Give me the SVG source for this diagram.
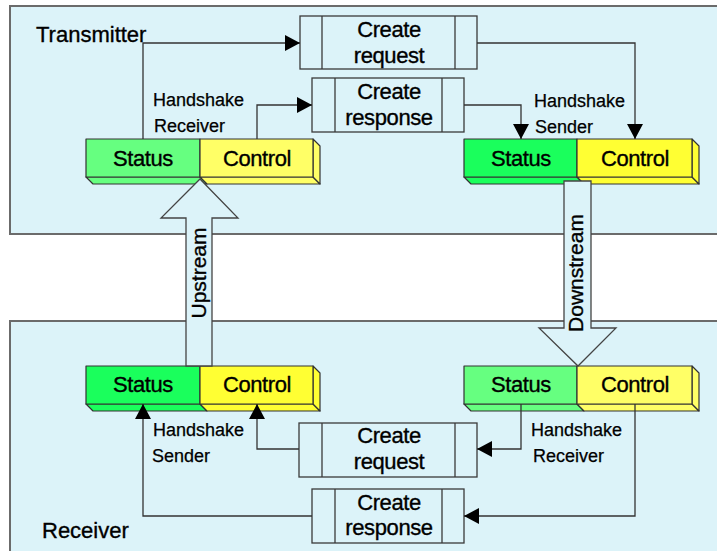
<svg xmlns="http://www.w3.org/2000/svg" width="717" height="551" viewBox="0 0 717 551">
<defs>
<style>
.panel{fill:#dcf3f9;stroke:#6b6b6b;stroke-width:2}
.box{fill:#dcf3f9;stroke:#3a3a3a;stroke-width:1.3}
.div{stroke:#3a3a3a;stroke-width:1.3}
.edge{fill:none;stroke:#333;stroke-width:1.3;marker-end:url(#ah)}
.blk{fill:#dcf3f9;stroke:#444;stroke-width:1.3}
.face{stroke:#333;stroke-width:1.2;stroke-linejoin:round}
.gl{fill:#66ff80}.gb{fill:#1aff5c}.yl{fill:#ffff66}.yb{fill:#ffff33}
text{font-family:"Liberation Sans",Arial,sans-serif;fill:#000;stroke:#000;stroke-width:0.35px}
.big{font-size:22px;text-anchor:middle;letter-spacing:-0.4px}
.lbl{font-size:22px}
.hs{font-size:18px;stroke-width:0.25px}
.bl{font-size:21px;text-anchor:middle}
</style>
<marker id="ah" markerUnits="userSpaceOnUse" markerWidth="16" markerHeight="16" refX="15" refY="8" orient="auto" viewBox="0 0 16 16">
<path d="M0,0 L15,8 L0,16 z" fill="#000"/>
</marker>
</defs>
<rect width="717" height="551" fill="#fff"/>
<g id="transmitter">
<rect class="panel" x="10" y="6" width="720" height="228"/>
<text class="lbl" x="36" y="42">Transmitter</text>
</g>
<g id="receiver">
<rect class="panel" x="10" y="321" width="720" height="240"/>
<text class="lbl" x="42" y="538">Receiver</text>
</g>

<g id="tx-hs-receiver">
<polygon class="face gl" points="86,177 200,177 207,184 93,184"/>
<polygon class="face yl" points="200,177 313,177 320,184 207,184"/>
<polygon class="face yl" points="313,139 320,146 320,184 313,177"/>
<rect class="face gl" x="86" y="139" width="114" height="38"/>
<rect class="face yl" x="200" y="139" width="113" height="38"/>
<text class="big" x="143" y="166">Status</text>
<text class="big" x="257" y="166">Control</text>
<text class="hs" x="153" y="106">Handshake</text>
<text class="hs" x="154" y="132">Receiver</text>
</g>
<g id="tx-hs-sender">
<polygon class="face gb" points="464,177 577,177 584,184 471,184"/>
<polygon class="face yb" points="577,177 692,177 699,184 584,184"/>
<polygon class="face yb" points="692,139 699,146 699,184 692,177"/>
<rect class="face gb" x="464" y="139" width="113" height="38"/>
<rect class="face yb" x="577" y="139" width="115" height="38"/>
<text class="big" x="521" y="166">Status</text>
<text class="big" x="635" y="166">Control</text>
<text class="hs" x="534" y="107">Handshake</text>
<text class="hs" x="535" y="133">Sender</text>
</g>
<g id="rx-hs-sender">
<polygon class="face gb" points="86,404 200,404 207,411 93,411"/>
<polygon class="face yb" points="200,404 313,404 320,411 207,411"/>
<polygon class="face yb" points="313,366 320,373 320,411 313,404"/>
<rect class="face gb" x="86" y="366" width="114" height="38"/>
<rect class="face yb" x="200" y="366" width="113" height="38"/>
<text class="big" x="143" y="392">Status</text>
<text class="big" x="257" y="392">Control</text>
<text class="hs" x="153" y="436">Handshake</text>
<text class="hs" x="152" y="462">Sender</text>
</g>
<g id="rx-hs-receiver">
<polygon class="face gl" points="464,404 577,404 584,411 471,411"/>
<polygon class="face yl" points="577,404 692,404 699,411 584,411"/>
<polygon class="face yl" points="692,366 699,373 699,411 692,404"/>
<rect class="face gl" x="464" y="366" width="113" height="38"/>
<rect class="face yl" x="577" y="366" width="115" height="38"/>
<text class="big" x="521" y="392">Status</text>
<text class="big" x="635" y="392">Control</text>
<text class="hs" x="531" y="436">Handshake</text>
<text class="hs" x="533" y="462">Receiver</text>
</g>

<g id="tx-create-request">
<rect class="box" x="300" y="16" width="177" height="53"/>
<line class="div" x1="322" y1="16" x2="322" y2="69"/>
<line class="div" x1="455" y1="16" x2="455" y2="69"/>
<text class="big" x="389" y="37">Create</text>
<text class="big" x="389" y="63">request</text>
</g>
<g id="tx-create-response">
<rect class="box" x="312" y="78" width="152" height="54"/>
<line class="div" x1="335" y1="78" x2="335" y2="132"/>
<line class="div" x1="442" y1="78" x2="442" y2="132"/>
<text class="big" x="389" y="99">Create</text>
<text class="big" x="389" y="125">response</text>
</g>
<g id="rx-create-request">
<rect class="box" x="299" y="423" width="178" height="54"/>
<line class="div" x1="322" y1="423" x2="322" y2="477"/>
<line class="div" x1="455" y1="423" x2="455" y2="477"/>
<text class="big" x="389" y="443">Create</text>
<text class="big" x="389" y="469">request</text>
</g>
<g id="rx-create-response">
<rect class="box" x="312" y="489" width="152" height="54"/>
<line class="div" x1="335" y1="489" x2="335" y2="543"/>
<line class="div" x1="442" y1="489" x2="442" y2="543"/>
<text class="big" x="389" y="510">Create</text>
<text class="big" x="389" y="535">response</text>
</g>

<g id="upstream">
<polygon class="blk" points="186,366 186,218 161,218 200,179 238,218 212,218 212,366"/>
<text class="bl" transform="translate(206,273) rotate(-90)">Upstream</text>
</g>
<g id="downstream">
<polygon class="blk" points="564,181 591,181 591,328 616,328 578,366 539,328 564,328"/>
<text class="bl" transform="translate(583,273) rotate(-90)">Downstream</text>
</g>

<g id="connectors">
<polyline class="edge" points="143,139 143,43 300,43"/>
<polyline class="edge" points="257,139 257,105 312,105"/>
<polyline class="edge" points="477,43 635,43 635,139"/>
<polyline class="edge" points="464,105 521,105 521,139"/>
<polyline class="edge" points="521,404 521,449 477,449"/>
<polyline class="edge" points="635,404 635,516 464,516"/>
<polyline class="edge" points="299,449 257,449 257,404"/>
<polyline class="edge" points="312,516 143,516 143,404"/>
</g>
</svg>
